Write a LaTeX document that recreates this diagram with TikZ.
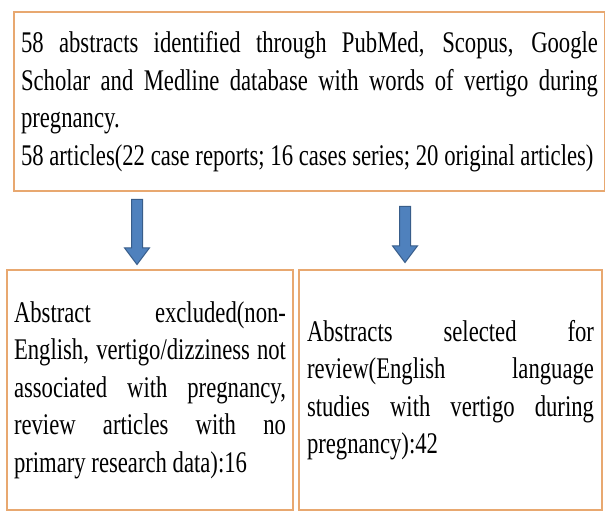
\documentclass[tikz,border=0pt]{standalone}
\usepackage{xcolor}
\usepackage{fontspec}
\setmainfont{Liberation Serif}[FakeStretch=0.756]
\usepackage{tikz}
\usetikzlibrary{shapes.arrows,positioning}

\definecolor{boxline}{RGB}{232,168,112}
\definecolor{arrowfill}{RGB}{79,129,189}
\definecolor{arrowline}{RGB}{56,93,138}

\begin{document}
\begin{tikzpicture}[x=1pt,y=1pt]
    \tikzstyle{box} = [rectangle, draw=boxline, line width=2.2pt, outer sep=0pt, inner ysep=0pt, align=justify, font=\fontsize{30}{37.5}\selectfont, execute at begin node={\tolerance=10000\hbadness=10000}]
    \tikzstyle{blockarrow} = [single arrow, draw=arrowline, fill=arrowfill, line width=1pt, inner sep=5pt, single arrow head extend=7pt, single arrow tip angle=74, rotate=-90, anchor=tail]
    \useasboundingbox (0,0) rectangle (605,512);
    \node [box, text width=577pt, inner xsep=7pt, minimum height=179pt, anchor=north west] (search) at (14,500) {58 abstracts identified through PubMed, Scopus, Google\linebreak Scholar and Medline database with words of vertigo during\linebreak pregnancy.\\58 articles(22 case reports; 16 cases series; 20 original articles)};
    \node [box, text width=272pt, inner xsep=7pt, minimum height=240pt, anchor=north west] (excl) at (7,242) {Abstract excluded(non-\linebreak English, vertigo/dizziness not\linebreak associated with pregnancy,\linebreak review articles with no\linebreak primary research data):16};
    \node [box, text width=287pt, inner xsep=8pt, minimum height=240pt, anchor=north west] (sel) at ([xshift=6pt]excl.north east) {Abstracts selected for\linebreak review(English language\linebreak studies with vertigo during\linebreak pregnancy):42};
    % block arrows between the boxes
    \node [blockarrow, minimum height=65pt] (larr) at ([xshift=123pt,yshift=-8pt]search.south west) {};
    \node [blockarrow, minimum height=56pt] (rarr) at ([xshift=391pt,yshift=-15pt]search.south west) {};
\end{tikzpicture}
\end{document}
